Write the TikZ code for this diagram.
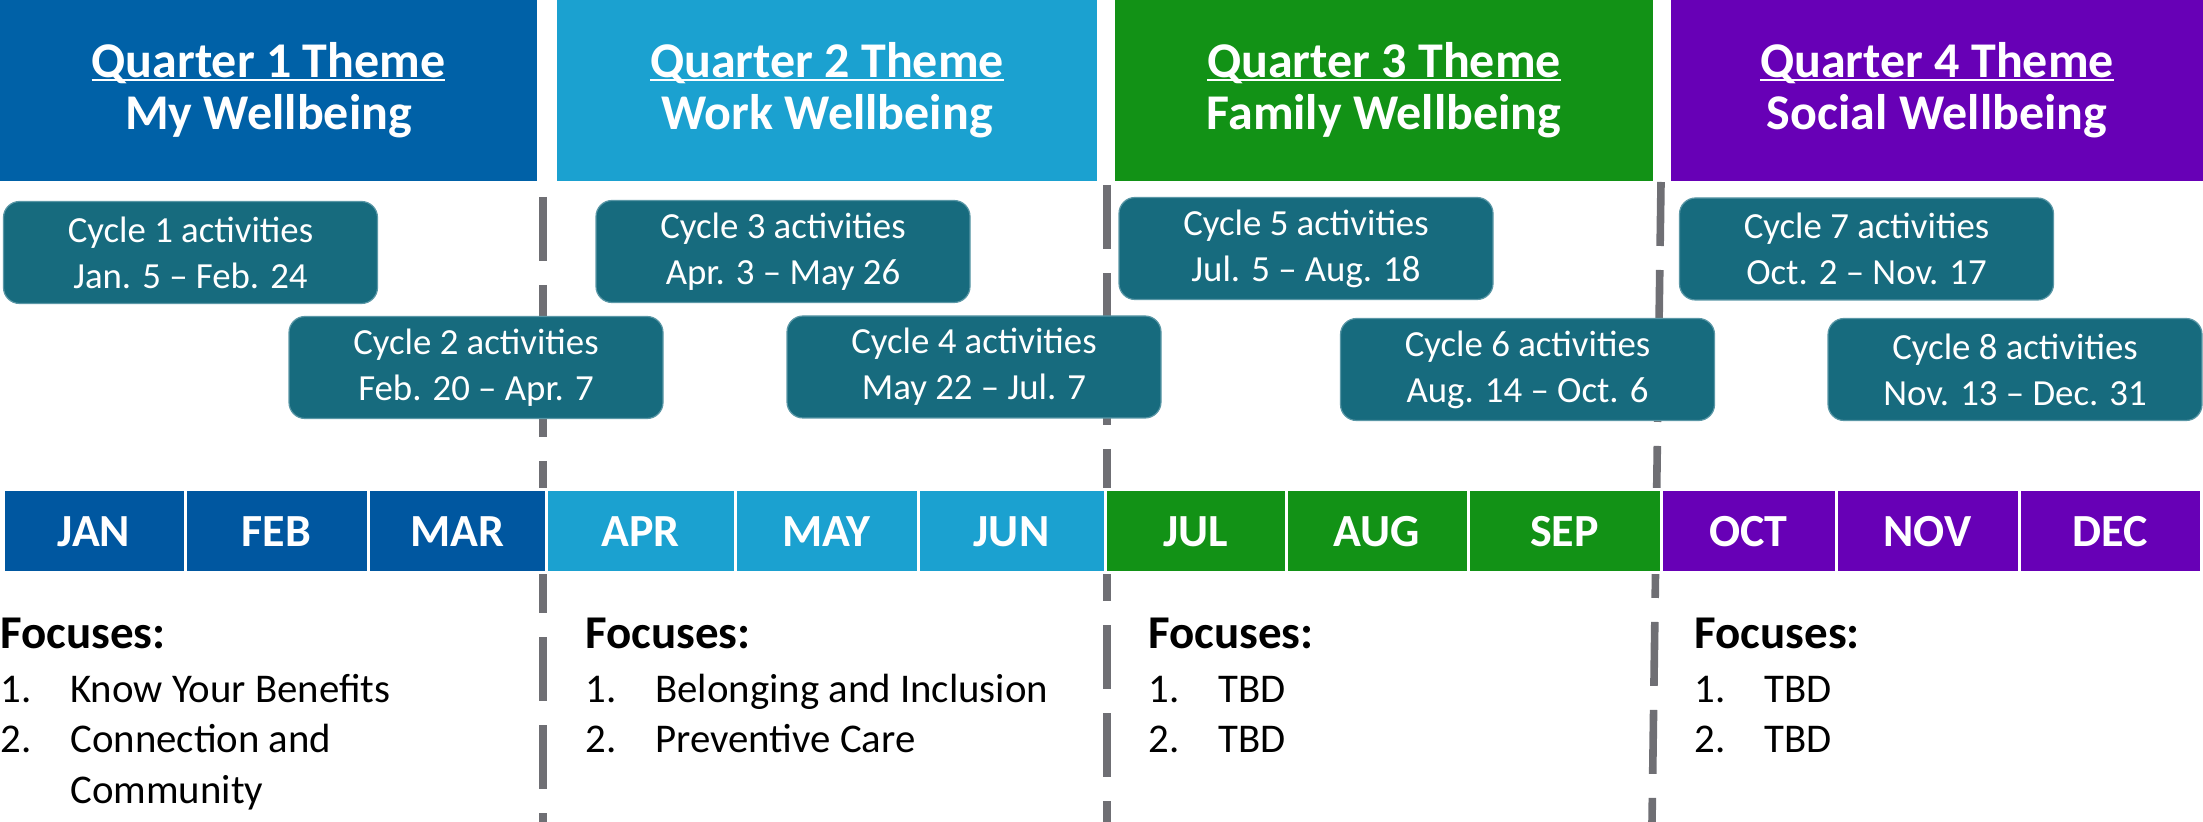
\documentclass[tikz,border=0pt]{standalone}
\usepackage{fontspec}
\setmainfont{Carlito}
\usetikzlibrary{positioning}
\definecolor{quarter1}{HTML}{0061A7}
\definecolor{month1}{HTML}{0057A0}
\definecolor{quarter2}{HTML}{1BA1D0}
\definecolor{quarter3}{HTML}{129216}
\definecolor{quarter4}{HTML}{6700B6}
\definecolor{cyclefill}{HTML}{176B7E}
\definecolor{cycleedge}{HTML}{5A97A6}
\definecolor{divider}{HTML}{6F6F74}
\newsavebox{\ulbox}
\newcommand{\themeline}[1]{\sbox{\ulbox}{#1}\rlap{\rule[-1.6pt]{\wd\ulbox}{1.1pt}}\usebox{\ulbox}}

\begin{document}
\begin{tikzpicture}[x=0.5pt, y=-0.5pt,
        themebox/.style={rectangle, minimum height=90.5pt, inner sep=0pt, text=white, align=center, font=\bfseries\fontsize{25}{26}\selectfont},
        cyclebox/.style={rectangle, rounded corners=8pt, fill=cyclefill, draw=cycleedge, line width=0.6pt, minimum width=187pt, minimum height=51pt, inner sep=0pt, text=white, align=center, font=\fontsize{18.4}{23}\selectfont},
        monthcell/.style={rectangle, draw=white, line width=1.5pt, minimum height=41.5pt, inner sep=0pt, text=white, font=\bfseries\fontsize{23}{24}\selectfont},
        focushead/.style={anchor=base west, inner sep=0pt, font=\bfseries\fontsize{23.5}{26}\selectfont},
        focusitem/.style={anchor=base west, inner sep=0pt, font=\fontsize{20.4}{25}\selectfont},
        divline/.style={draw=divider, line width=3.8pt, dash pattern=on 32pt off 12pt}
    ]
        \useasboundingbox (0,0) rectangle (2203,822);

        % quarter themes
        \node[themebox, fill=quarter1, minimum width=268.5pt] (q1) at (268.5,90.5) {\themeline{Quarter 1 Theme}\\My Wellbeing};
        \node[themebox, fill=quarter2, minimum width=270pt] (q2) at (827,90.5) {\themeline{Quarter 2 Theme}\\Work Wellbeing};
        \node[themebox, fill=quarter3, minimum width=269pt] (q3) at (1384,90.5) {\themeline{Quarter 3 Theme}\\Family Wellbeing};
        \node[themebox, fill=quarter4, minimum width=266pt] (q4) at (1937,90.5) {\themeline{Quarter 4 Theme}\\Social Wellbeing};

        % quarter dividers
        \coordinate (d1top) at (543,197);
        \coordinate (d1bot) at (543,822);
        \coordinate (d2top) at (1107,185);
        \coordinate (d2bot) at (1107,822);
        \coordinate (d3top) at (1661,182);
        \coordinate (d3bot) at (1652,822);
        \draw[divline] (d1top) -- (d1bot);
        \draw[divline] (d2top) -- (d2bot);
        \draw[divline] (d3top) -- (d3bot);

        % activity cycles
        \node[cyclebox] (c1) at (190.5,252.5) {Cycle 1 activities\\Jan. 5 -- Feb. 24};
        \node[cyclebox] (c2) at (476,367.5) {Cycle 2 activities\\Feb. 20 -- Apr. 7};
        \node[cyclebox] (c3) at (783,251.5) {Cycle 3 activities\\Apr. 3 -- May 26};
        \node[cyclebox] (c4) at (974,367) {Cycle 4 activities\\May 22 -- Jul. 7};
        \node[cyclebox] (c5) at (1306,248.5) {Cycle 5 activities\\Jul. 5 -- Aug. 18};
        \node[cyclebox] (c6) at (1527.5,369.5) {Cycle 6 activities\\Aug. 14 -- Oct. 6};
        \node[cyclebox] (c7) at (1866.5,249) {Cycle 7 activities\\Oct. 2 -- Nov. 17};
        \node[cyclebox] (c8) at (2015,369.5) {Cycle 8 activities\\Nov. 13 -- Dec. 31};

        % months
        \node[monthcell, fill=month1, minimum width=91pt] (jan) at (94,531.5) {JAN};
        \node[monthcell, fill=month1, minimum width=91.5pt] (feb) at (276.5,531.5) {FEB};
        \node[monthcell, fill=month1, minimum width=89pt] (mar) at (457,531.5) {MAR};
        \node[monthcell, fill=quarter2, minimum width=94.5pt] (apr) at (640.5,531.5) {APR};
        \node[monthcell, fill=quarter2, minimum width=91.5pt] (may) at (826.5,531.5) {MAY};
        \node[monthcell, fill=quarter2, minimum width=93.5pt] (jun) at (1011.5,531.5) {JUN};
        \node[monthcell, fill=quarter3, minimum width=90.5pt] (jul) at (1195.5,531.5) {JUL};
        \node[monthcell, fill=quarter3, minimum width=91pt] (aug) at (1377,531.5) {AUG};
        \node[monthcell, fill=quarter3, minimum width=96.5pt] (sep) at (1564.5,531.5) {SEP};
        \node[monthcell, fill=quarter4, minimum width=87.5pt] (oct) at (1748.5,531.5) {OCT};
        \node[monthcell, fill=quarter4, minimum width=91.5pt] (nov) at (1927.5,531.5) {NOV};
        \node[monthcell, fill=quarter4, minimum width=91pt] (dec) at (2110,531.5) {DEC};

        % focuses
        \node[focushead] (f1) at (0,648) {Focuses:};
        \node[focusitem] (f1a) at (0,702) {\makebox[35pt][l]{1.}Know Your Benefits};
        \node[focusitem] (f1b) at (0,752) {\makebox[35pt][l]{2.}Connection and};
        \node[focusitem] (f1c) at (70,803) {Community};
        \node[focushead] (f2) at (585,648) {Focuses:};
        \node[focusitem] (f2a) at (585,702) {\makebox[35pt][l]{1.}Belonging and Inclusion};
        \node[focusitem] (f2b) at (585,752) {\makebox[35pt][l]{2.}Preventive Care};
        \node[focushead] (f3) at (1148,648) {Focuses:};
        \node[focusitem] (f3a) at (1148,702) {\makebox[35pt][l]{1.}TBD};
        \node[focusitem] (f3b) at (1148,752) {\makebox[35pt][l]{2.}TBD};
        \node[focushead] (f4) at (1694,648) {Focuses:};
        \node[focusitem] (f4a) at (1694,702) {\makebox[35pt][l]{1.}TBD};
        \node[focusitem] (f4b) at (1694,752) {\makebox[35pt][l]{2.}TBD};
    \end{tikzpicture}
\end{document}
